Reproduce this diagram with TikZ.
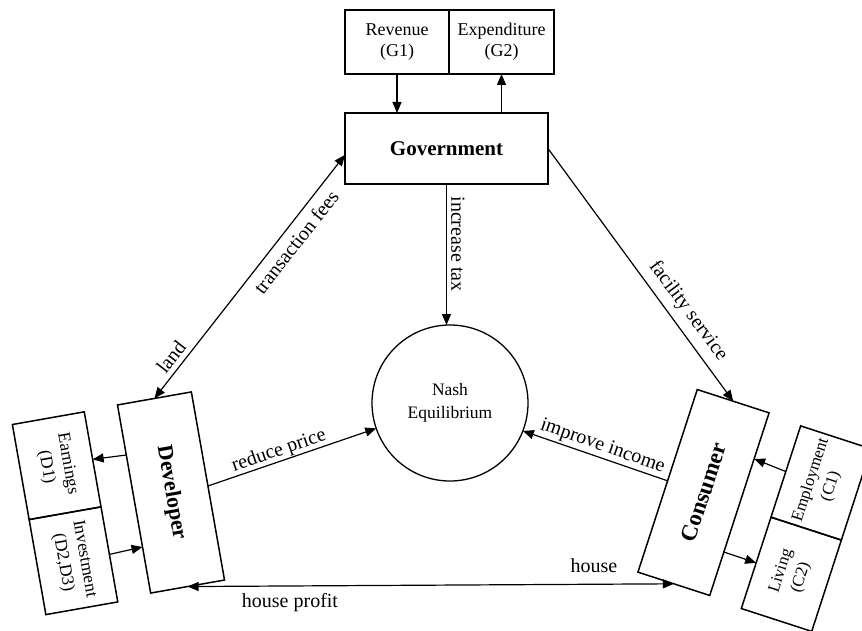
\documentclass[tikz,border=0pt]{standalone}
\usepackage{fontspec}
\setmainfont{Liberation Serif}
\usetikzlibrary{arrows.meta,calc}
\begin{document}
\begin{tikzpicture}[x=1pt,y=-1pt,
  box/.style={draw, line width=1.5pt, inner sep=0pt, outer sep=0pt, align=center},
  conn/.style={line width=1.2pt},
  arr/.style={conn, -{Triangle[length=11pt,width=9pt]}},
  darr/.style={conn, {Triangle[length=11pt,width=9pt]}-{Triangle[length=11pt,width=9pt]}},
  lbl/.style={font=\fontsize{20}{22}\selectfont, inner sep=0pt},
  topfont/.style={font=\fontsize{18}{21}\selectfont},
  dfont/.style={font=\fontsize{17.5}{21.5}\selectfont},
  cfont/.style={font=\fontsize{16.8}{21}\selectfont},
]
\fill[white] (0,0) rectangle (862,631);
\useasboundingbox (0,0) rectangle (862,631);
\clip (0,0) rectangle (862,631);

% top boxes
\node[box, topfont, minimum width=104pt, minimum height=64pt] (rev) at (397,42) {Revenue\\(G1)};
\node[box, topfont, minimum width=105pt, minimum height=64pt, anchor=west] (exp) at (rev.east) {Expenditure\\(G2)};
\node[box, minimum width=203pt, minimum height=71pt, font=\bfseries\fontsize{21}{24}\selectfont] (gov) at (446.5,148.5) {Government};

% Nash
\node[circle, draw, line width=1.3pt, minimum size=156pt, inner sep=0pt, outer sep=0pt, align=center, font=\fontsize{17.5}{23}\selectfont] (nash) at (450,403) {Nash\\Equilibrium};

% Developer side
\node[box, rotate=-80, minimum width=191pt, minimum height=75pt, font=\bfseries\fontsize{22}{24}\selectfont] (dev) at (171,492.5) {Developer};
\node[box, dfont, rotate=-80, minimum width=96.5pt, minimum height=73pt] (earn) at (56.7,465.7) {Earnings\\(D1)};
\node[box, dfont, rotate=-80, minimum width=96.5pt, minimum height=73pt, anchor=west] (inv) at (earn.east) {Investment\\(D2,D3)};

% Consumer side
\node[box, rotate=72, minimum width=192pt, minimum height=75.5pt, font=\bfseries\fontsize{23}{25}\selectfont] (cons) at (703.5,492.5) {Consumer};
\node[box, cfont, rotate=72, minimum width=96pt, minimum height=74pt] (emp) at (821,483) {Employment\\(C1)};
\node[box, cfont, rotate=72, minimum width=96pt, minimum height=74pt, anchor=east] (liv) at (emp.west) {Living\\(C2)};

% connectors
\draw[arr] (rev.south) -- (rev.south |- gov.north);
\draw[arr] (exp.south |- gov.north) -- (exp.south);
\draw[arr] (gov.south) -- (gov.south |- nash.north);
\draw[darr] (dev.west) -- ($(gov.north west)!0.59!(gov.south west)$);
\draw[arr] (gov.east) -- (cons.east);
\draw[arr] (dev.north) -- (nash.199);
\draw[arr] (cons.north) -- (nash.-21);
\draw[darr] (dev.east) -- (cons.west);
\draw[arr] ($(dev.south west)!0.266!(dev.south east)$) -- (earn.north);
\draw[arr] (inv.north) -- ($(dev.south west)!0.755!(dev.south east)$);
\draw[arr] ($(cons.south west)!0.238!(cons.south east)$) -- (liv.north);
\draw[arr] (emp.north) -- ($(cons.south west)!0.748!(cons.south east)$);

% labels
\node[lbl, rotate=52] (ltf) at (296,242) {transaction fees};
\node[lbl, rotate=52] (lland) at (171,357) {land};
\node[lbl, rotate=-90] (ltax) at (458,244) {increase tax};
\node[lbl, rotate=-53.4] (lfac) at (688,311) {facility service};
\node[lbl, rotate=19] (lrp) at (279,451) {reduce price};
\node[lbl, rotate=-19.4] (lii) at (602.5,446.5) {improve income};
\node[lbl] (lh) at (594,566) {house};
\node[lbl] (lhp) at (290,603) {house profit};
\end{tikzpicture}
\end{document}
